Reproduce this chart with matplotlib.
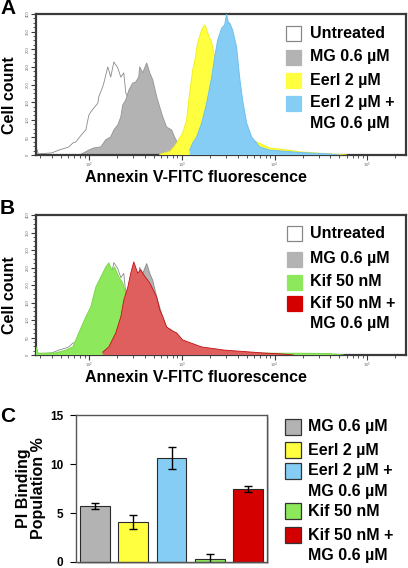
import matplotlib
matplotlib.use("Agg")
import matplotlib.pyplot as plt
from matplotlib.patches import Rectangle
from matplotlib.ticker import MultipleLocator, LogLocator, NullFormatter

plt.rcParams['font.family'] = ['Liberation Sans', 'DejaVu Sans']
plt.rcParams['font.weight'] = 'bold'

# ---------------- data ----------------
# histogram series: fluorescence value, cell count
untreated_x = [27, 28.5, 40, 47.5, 56.6, 60.9, 67.3, 72.4, 78.0, 86.1, 92.9, 100, 105, 113, 125, 128,
               141, 145, 160, 164, 172, 186, 205, 221, 238, 250, 263, 300, 360, 450, 560, 700, 900,
               1300, 2000, 3000]
untreated_y = [25, 3, 6, 14, 20, 23, 34, 37, 48, 62, 71, 113, 122, 133, 147, 165,
               193, 204, 250, 241, 221, 264, 247, 221, 233, 176, 165, 130, 95, 60, 35, 20, 10,
               5, 2, 0]

mg_x = [80, 100, 113, 135, 152, 172, 186, 205, 221, 232, 250, 270, 297, 320, 345, 353, 381, 420,
        453, 488, 538, 580, 625, 688, 780, 837, 903, 1000, 1200, 1500, 2000, 3000, 5000, 8000]
mg_y = [0, 14, 20, 23, 43, 51, 71, 85, 108, 142, 156, 184, 204, 207, 221, 250, 233, 261,
        233, 213, 165, 136, 108, 79, 71, 51, 34, 25, 20, 14, 10, 5, 2, 0]

eerl_x = [580, 745, 837, 883, 950, 1025, 1130, 1180, 1219, 1313, 1390, 1486, 1641, 1767, 1830,
          1905, 2103, 2266, 2560, 3283, 4203, 6000, 8830, 12000, 18600, 39000, 60000]
eerl_y = [2, 10, 25, 34, 48, 62, 99, 147, 176, 241, 270, 318, 355, 369, 360,
          346, 318, 278, 230, 150, 80, 40, 20, 16, 9, 3, 0]

combo_x = [1219, 1313, 1449, 1641, 1857, 2103, 2266, 2440, 2693, 2900, 3047, 3200, 3283, 3535,
           3902, 4203, 4527, 5000, 5660, 6400, 6900, 8830, 18600, 39000, 50000]
combo_y = [14, 34, 51, 91, 147, 221, 278, 326, 360, 369, 400, 372, 375, 355,
           306, 221, 156, 91, 51, 34, 23, 14, 7, 3, 0]

kif_x = [27, 28.3, 44, 56.6, 67.3, 78, 92.9, 105, 119, 135, 152, 164, 177, 190, 210, 232, 250,
         276, 312, 353, 453, 650, 1219, 3283, 8830, 18600, 39000, 55000]
kif_y = [23, 5, 6, 14, 23, 63, 109, 137, 194, 223, 251, 263, 243, 251, 223, 206, 177,
         150, 110, 80, 45, 25, 12, 6, 5, 5, 4, 0]

kifmg_x = [141, 164, 195, 221, 238, 263, 283, 305, 336, 362, 400, 453, 538, 580, 625, 688, 780,
           883, 1025, 1641, 2880, 7400, 12000, 16000]
kifmg_y = [8, 23, 63, 109, 157, 194, 234, 266, 234, 243, 225, 206, 166, 129, 110, 80, 70,
           63, 43, 23, 14, 6, 3, 0]

hist_yticks = [0, 50, 100, 150, 200, 250, 300, 350, 400]

# bar chart
bar_labels = ["MG 0.6 µM", "Eerl 2 µM", "Eerl 2 µM +\nMG 0.6 µM", "Kif 50 nM", "Kif 50 nM +\nMG 0.6 µM"]
bar_values = [5.71, 4.07, 10.65, 0.34, 7.45]
bar_errors = [0.32, 0.75, 1.12, 0.45, 0.26]
bar_yticks = [0, 5, 10, 15]

# legends
legend_a = ["Untreated", "MG 0.6 µM", "Eerl 2 µM", "Eerl 2 µM +\nMG 0.6 µM"]
legend_b = ["Untreated", "MG 0.6 µM", "Kif 50 nM", "Kif 50 nM +\nMG 0.6 µM"]

# ---------------- styles ----------------
W, H = 408, 568
fig = plt.figure(figsize=(W / 100, H / 100), dpi=100)

def px_axes(l, t, r, b):
    return fig.add_axes([l / W, 1 - b / H, (r - l) / W, (b - t) / H])

C_GRAY = "#b3b3b3"
C_YEL = "#ffff40"
C_BLUE = "#85cdf5"
C_GREEN = "#8ee85c"
C_RED_H = "#df5f5f"
C_RED = "#d40000"
SPINE = "#3a3a3a"

def style_hist(ax):
    ax.set_xscale("log")
    ax.set_xlim(27, 2.6e5)
    ax.set_ylim(0, 400)
    for s in ax.spines.values():
        s.set_color(SPINE)
        s.set_linewidth(1.6)
    ax.xaxis.set_major_locator(LogLocator(base=10, numticks=10))
    ax.xaxis.set_minor_locator(LogLocator(base=10, subs=range(2, 10), numticks=20))
    ax.xaxis.set_minor_formatter(NullFormatter())
    ax.set_yticks(hist_yticks)
    ax.yaxis.set_minor_locator(MultipleLocator(12.5))
    ax.tick_params(axis="both", which="major", direction="out", length=3.5, width=0.8,
                   color=SPINE, labelsize=3.0, labelcolor="#666666", pad=0.8)
    ax.tick_params(axis="both", which="minor", direction="out", length=2, width=0.6, color=SPINE)
    for lab in ax.get_yticklabels():
        lab.set_rotation(90)
        lab.set_va("center")
        lab.set_fontweight("normal")
    for lab in ax.get_xticklabels():
        lab.set_fontweight("normal")

def hist(ax, x, y, face, edge, lw=0.7, z=1):
    ax.fill_between(x, y, 0, facecolor=face, edgecolor="none", zorder=z)
    ax.plot(x, y, color=edge, lw=lw, zorder=z + 0.1)

# ---------------- panel A ----------------
axA = px_axes(36, 14, 406, 155)
hist(axA, untreated_x, untreated_y, "white", "#8a8a8a", lw=0.6, z=1)
hist(axA, mg_x, mg_y, C_GRAY, "#9a9a9a", z=2)
hist(axA, eerl_x, eerl_y, C_YEL, "#f0f020", z=3)
hist(axA, combo_x, combo_y, C_BLUE, "#6fc0ee", z=4)
style_hist(axA)

# ---------------- panel B ----------------
axB = px_axes(36, 215, 406, 355)
hist(axB, untreated_x, untreated_y, "white", "#8a8a8a", lw=0.6, z=1)
hist(axB, mg_x, mg_y, C_GRAY, "#8f8f8f", z=2)
hist(axB, kif_x, kif_y, C_GREEN, "#7ad84a", z=3)
hist(axB, kifmg_x, kifmg_y, C_RED_H, "#c01010", lw=0.6, z=4)
style_hist(axB)

# ---------------- panel C ----------------
axC = px_axes(76, 415, 267, 562)
bar_colors = [C_GRAY, C_YEL, C_BLUE, C_GREEN, C_RED]
xs = list(range(len(bar_values)))
axC.bar(xs, bar_values, width=0.78, color=bar_colors, edgecolor="#2a2a2a", linewidth=0.8,
        yerr=bar_errors, error_kw=dict(ecolor="black", elinewidth=1.0, capsize=3, capthick=1.0),
        zorder=2)
axC.set_xlim(-0.5, 4.5)
axC.set_ylim(0, 15)
axC.set_yticks(bar_yticks)
axC.set_xticks([])
for s in axC.spines.values():
    s.set_color("#555555")
    s.set_linewidth(1.0)
axC.tick_params(axis="y", direction="out", length=4, width=0.8, labelsize=8.5, pad=5)
axC.set_ylabel("PI Binding\nPopulation %", fontsize=11.5, fontweight="bold", labelpad=3,
               linespacing=1.0)

# ---------------- overlay for text & legends ----------------
ov = fig.add_axes([0, 0, 1, 1], zorder=-1)
ov.set_xlim(0, W)
ov.set_ylim(H, 0)
ov.axis("off")

# shadow of panel C frame
ov.add_patch(Rectangle((78, 417), 191, 147, facecolor="#c8c8c8", edgecolor="none"))
ov.add_patch(Rectangle((76, 415), 191, 147, facecolor="white", edgecolor="none"))

ov2 = fig.add_axes([0, 0, 1, 1], zorder=10)
ov2.set_xlim(0, W)
ov2.set_ylim(H, 0)
ov2.axis("off")
ov2.patch.set_alpha(0)

FS = 11.5
for lab, y in (("A", 9), ("B", 208), ("C", 417)):
    ov2.text(0, y, lab, fontsize=15, fontweight="bold", va="center", ha="left")

for yc in (95, 295):
    ov2.text(10, yc, "Cell count", fontsize=FS, fontweight="bold", rotation=90,
             va="center", ha="center")
for yc in (177, 377):
    ov2.text(196, yc, "Annexin V-FITC fluorescence", fontsize=FS, fontweight="bold",
             va="center", ha="center")

def legend(items, faces, edges, ys, box_x, text_x, box=15):
    for lab, fc, ec, y in zip(items, faces, edges, ys):
        ov2.add_patch(Rectangle((box_x, y - box / 2), box, box, facecolor=fc,
                                edgecolor=ec, linewidth=0.9))
        lines = lab.split("\n")
        for i, line in enumerate(lines):
            ov2.text(text_x, y + 20.5 * i, line, fontsize=FS, fontweight="bold",
                     va="center", ha="left")

legend(legend_a, ["white", C_GRAY, C_YEL, C_BLUE], ["#888888", C_GRAY, C_YEL, C_BLUE],
       [33, 57, 80, 103], 286, 310)
legend(legend_b, ["white", C_GRAY, C_GREEN, C_RED], ["#888888", C_GRAY, C_GREEN, C_RED],
       [233, 259, 282, 303], 287, 310)
legend(bar_labels, bar_colors, ["#333333"] * 5, [427, 450, 471, 511, 535], 285, 308, box=16)

fig.savefig("out.png", dpi=100)
